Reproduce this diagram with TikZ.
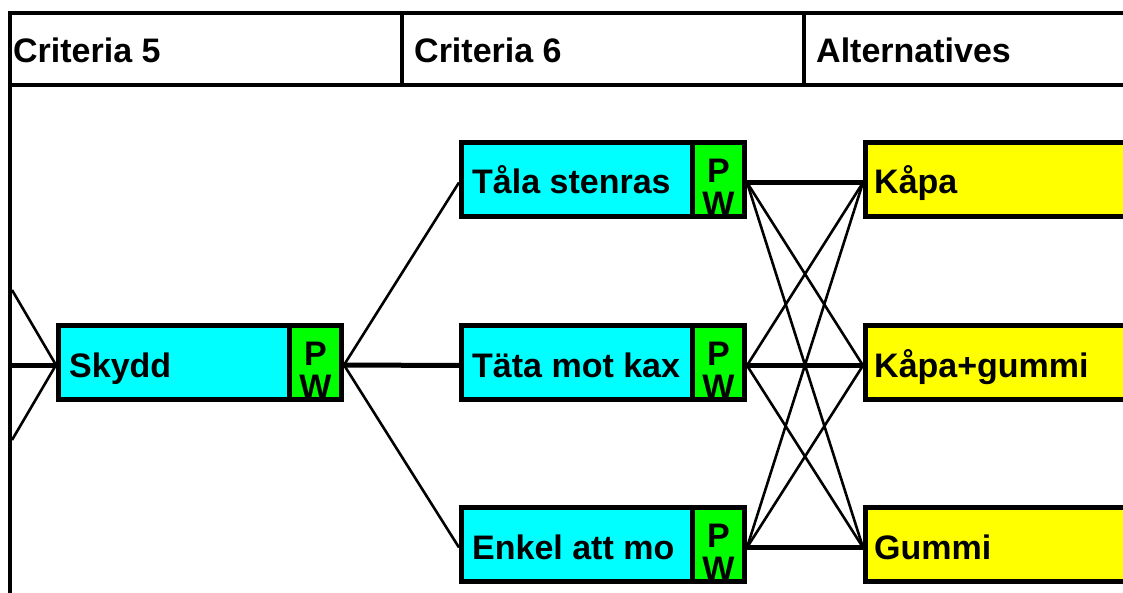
\documentclass[tikz,border=0pt]{standalone}
\usepackage{fontspec}
\setmainfont{Liberation Sans}
\definecolor{boxcyan}{HTML}{00FFFF}
\definecolor{boxgreen}{HTML}{00FF00}
\definecolor{boxyellow}{HTML}{FFFF00}
\begin{document}
\begin{tikzpicture}[x=1pt,y=-1pt,
  bigfont/.style={font=\bfseries\fontsize{34}{37}\selectfont},
  critbox/.style={draw=black,line width=5pt,fill=boxcyan,minimum width=283pt,minimum height=74pt,inner sep=0pt},
  pwbox/.style={draw=black,line width=5pt,fill=boxgreen,minimum width=52pt,minimum height=74pt,inner sep=0pt,anchor=east},
  altbox/.style={draw=black,line width=5pt,fill=boxyellow,minimum width=400pt,minimum height=74pt,inner sep=0pt,anchor=west},
  lbl/.style={bigfont,inner sep=0pt,anchor=base west},
  pw/.style={bigfont,inner sep=0pt,anchor=base},
  thinline/.style={line width=2.6pt},
  thickline/.style={line width=5pt},
  frame/.style={line width=4pt}]
\useasboundingbox (0,0) rectangle (1123,593);
\clip (0,0) rectangle (1123,593);
% header
\draw[frame] (8,13) -- (1130,13);
\draw[frame] (8,85) -- (1130,85);
\draw[frame] (10,11) -- (10,600);
\draw[frame] (402,13) -- (402,85);
\draw[frame] (804,13) -- (804,85);
\node[lbl] (h5) at (13,63) {Criteria 5};
\node[lbl] (h6) at (414,63) {Criteria 6};
\node[lbl] (halt) at (816,63) {Alternatives};
% free ends at the left
\coordinate (l1) at (12,290);
\coordinate (l2) at (12,365);
\coordinate (l3) at (12,440);
% criteria 5
\node[critbox] (skydd) at (200,362) {};
\node[pwbox] (skyddpw) at (skydd.east) {};
\node[lbl] (skyddt) at (69,377) {Skydd};
% criteria 6
\node[critbox] (tala) at (603,179.5) {};
\node[pwbox] (talapw) at (tala.east) {};
\node[lbl] (talat) at (472,194) {Tåla stenras};
\node[critbox] (tata) at (603,362.5) {};
\node[pwbox] (tatapw) at (tata.east) {};
\node[lbl] (tatat) at (472,377) {Täta mot kax};
\node[critbox] (enkel) at (603,544.5) {};
\node[pwbox] (enkelpw) at (enkel.east) {};
\node[lbl] (enkelt) at (472,559) {Enkel att mo};
% alternatives
\node[altbox] (kapa) at (863,179.5) {};
\node[lbl] (kapat) at (874,194) {Kåpa};
\node[altbox] (kg) at (863,362.5) {};
\node[lbl] (kgt) at (874,377) {Kåpa+gummi};
\node[altbox] (gummi) at (863,544.5) {};
\node[lbl] (gummit) at (874,559) {Gummi};
% P / W labels
\foreach \n in {skyddpw,talapw,tatapw,enkelpw}{
  \node[pw] at ([yshift=-3pt]\n.center) {P};
  \node[pw] at ([yshift=-36pt]\n.center) {W};
}
% connectors left
\draw[thinline] (l1) -- ([yshift=-3pt]skydd.west);
\draw[thickline] (l2) -- ([yshift=-3pt]skydd.west);
\draw[thinline] (l3) -- ([yshift=-3pt]skydd.west);
% skydd to criteria 6
\draw[thinline] ([yshift=-3pt]skyddpw.east) -- ([yshift=-3pt]tala.west);
\draw[thickline] ([yshift=-3pt]skyddpw.east) -- ([yshift=-3pt]tata.west);
\draw[thinline] ([yshift=-3pt]skyddpw.east) -- ([yshift=-3pt]enkel.west);
% criteria 6 to alternatives
\foreach \a in {talapw,tatapw,enkelpw}{
  \foreach \b in {kapa,kg,gummi}{
    \draw[thinline] ([yshift=-3pt]\a.east) -- ([yshift=-3pt]\b.west);
  }
}
\draw[thickline] ([yshift=-3pt]talapw.east) -- ([yshift=-3pt]kapa.west);
\draw[thickline] ([yshift=-3pt]tatapw.east) -- ([yshift=-3pt]kg.west);
\draw[thickline] ([yshift=-3pt]enkelpw.east) -- ([yshift=-3pt]gummi.west);
\end{tikzpicture}
\end{document}
